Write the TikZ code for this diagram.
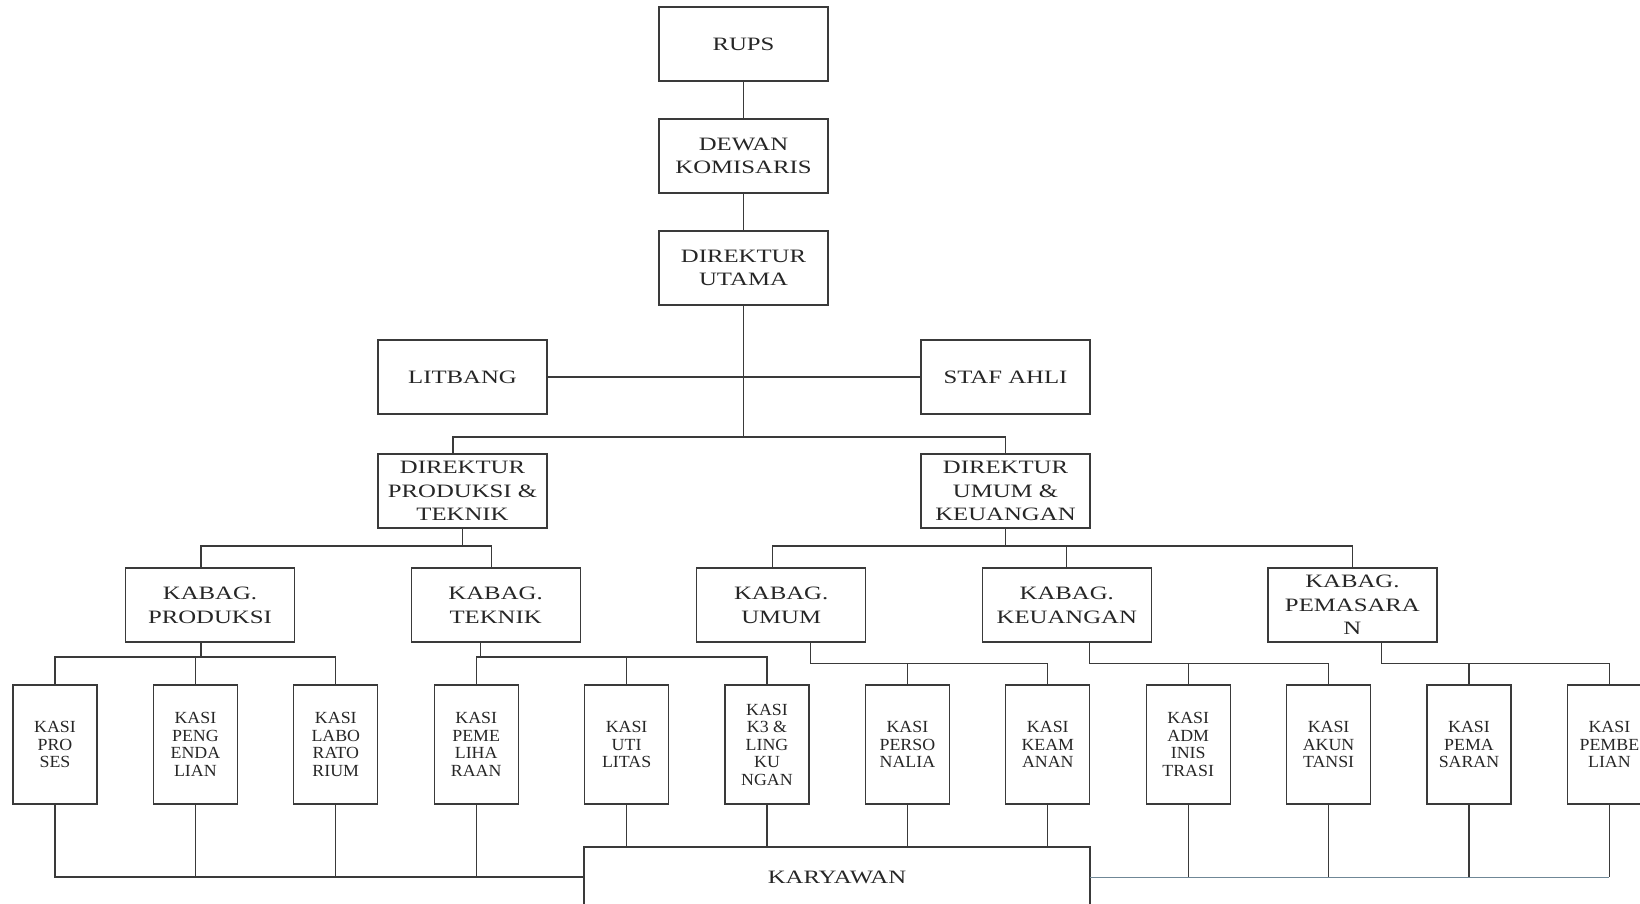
\documentclass[tikz,border=0pt]{standalone}
\usepackage{fontspec}
\setmainfont{Liberation Serif}[FakeStretch=1.31]
\newfontfamily\kasifont{Liberation Serif}[FakeStretch=1.05]
\usetikzlibrary{positioning}
\definecolor{inkgray}{HTML}{262626}
\definecolor{linegray}{HTML}{3A3A3A}
\definecolor{bluegray}{HTML}{6F8796}

\begin{document}
\begin{tikzpicture}[x=0.5pt, y=-0.5pt, line width=0.6pt, draw=linegray,
    box/.style={draw=linegray, text=inkgray, align=center, inner sep=0pt, outer sep=0pt,
      minimum width=84.5pt, minimum height=37pt,
      font=\fontsize{9.45}{11.85}\selectfont},
    kasi/.style={draw=linegray, text=inkgray, align=center, inner sep=0pt, outer sep=0pt,
      minimum width=42pt, minimum height=59.5pt,
      font=\kasifont\fontsize{8.5}{8.75}\selectfont}]
  \useasboundingbox (0,0) rectangle (1640,904);
  \clip (0,0) rectangle (1640,904);

  \node[box] (rups) at (743.5,44)    {RUPS};
  \node[box] (dewan)   [below=19pt of rups]  {DEWAN\\KOMISARIS};
  \node[box] (dirut)   [below=19pt of dewan] {DIREKTUR\\UTAMA};
  \node[box] (dirprod) at (462.5,491)  {DIREKTUR\\PRODUKSI \&\\TEKNIK};
  \node[box] (dirumum) at (1005.5,491) {DIREKTUR\\UMUM \&\\KEUANGAN};
  \node[box] (litbang)  [above=20pt of dirprod] {LITBANG};
  \node[box] (stafahli) [above=20pt of dirumum] {STAF AHLI};

  \node[box] (kbprod) at (210,605)              {KABAG.\\PRODUKSI};
  \node[box] (kbteknik)    [right=58.3pt of kbprod]   {KABAG.\\TEKNIK};
  \node[box] (kbumum)      [right=58.3pt of kbteknik] {KABAG.\\UMUM};
  \node[box] (kbkeu)       [right=58.3pt of kbumum]   {KABAG.\\KEUANGAN};
  \node[box] (kbpemasaran) [right=58.3pt of kbkeu]    {KABAG.\\PEMASARA\\N};

  \node[kasi] (kproses) at (55,744.5)         {KASI\\PRO\\SES};
  \node[kasi] (kpeng)  [right=28.2pt of kproses] {KASI\\PENG\\ENDA\\LIAN};
  \node[kasi] (klabo)  [right=28.2pt of kpeng]   {KASI\\LABO\\RATO\\RIUM};
  \node[kasi] (kpeme)  [right=28.2pt of klabo]   {KASI\\PEME\\LIHA\\RAAN};
  \node[kasi] (kuti)   [right=33.2pt of kpeme]   {KASI\\UTI\\LITAS};
  \node[kasi] (kk3)    [right=28.2pt of kuti]    {KASI\\K3 \&\\LING\\KU\\NGAN};
  \node[kasi] (kperso) [right=28.2pt of kk3]     {KASI\\PERSO\\NALIA};
  \node[kasi] (keam)   [right=28.2pt of kperso]  {KASI\\KEAM\\ANAN};
  \node[kasi] (kadm)   [right=28.2pt of keam]    {KASI\\ADM\\INIS\\TRASI};
  \node[kasi] (kakun)  [right=28.2pt of kadm]    {KASI\\AKUN\\TANSI};
  \node[kasi] (kpema)  [right=28.2pt of kakun]   {KASI\\PEMA\\SARAN};
  \node[kasi] (kpembe) [right=28.2pt of kpema]   {KASI\\PEMBE\\LIAN};

  \node[box, minimum width=253pt, minimum height=30pt] (karyawan) at (837,877) {KARYAWAN};

  % top chain
  \draw (rups) -- (dewan);
  \draw (dewan) -- (dirut);
  \draw (litbang) -- (stafahli);
  \draw (dirut.south) -- ++(0,132) coordinate (jdir);
  \draw ([xshift=-4.75pt]dirprod.north) |- (jdir) -| (dirumum.north);

  % direktur to kabag
  \draw (dirprod.south) -- ++(0,18) coordinate (jprod);
  \draw ([xshift=-4.5pt]kbprod.north) |- (jprod) -| ([xshift=-2pt]kbteknik.north);
  \draw (dirumum.south) -- ++(0,18) coordinate (jumum);
  \draw ([xshift=-4.5pt]kbumum.north) |- (jumum) -| (kbpemasaran.north);
  \draw (kbkeu.north) -- (kbkeu.north |- jumum);

  % kabag to kasi
  \draw ([xshift=-4.5pt]kbprod.south) -- ++(0,15) coordinate (jkprod);
  \draw (kproses.north) |- (jkprod) -| (klabo.north);
  \draw (kpeng.north) -- (kpeng.north |- jkprod);
  \draw ([xshift=-7.5pt]kbteknik.south) -- ++(0,15) coordinate (jkteknik);
  \draw (kpeme.north) |- (jkteknik) -| (kk3.north);
  \draw (kuti.north) -- (kuti.north |- jkteknik);
  \draw ([xshift=14.5pt]kbumum.south) -- ++(0,21.5) coordinate (jkumum);
  \draw (kperso.north) |- (jkumum) -| (keam.north);
  \draw ([xshift=11.5pt]kbkeu.south) -- ++(0,21.5) coordinate (jkkeu);
  \draw (kadm.north) |- (jkkeu) -| (kakun.north);
  \draw ([xshift=14.5pt]kbpemasaran.south) -- ++(0,21.5) coordinate (jkpem);
  \draw (kpema.north) |- (jkpem) -| (kpembe.north);

  % kasi to karyawan
  \draw (kproses.south) |- (karyawan.west);
  \foreach \k in {kpeng,klabo,kpeme}
    \draw (\k.south) -- (\k.south |- karyawan.west);
  \foreach \k in {kuti,kk3,kperso,keam}
    \draw (\k.south) -- (\k.south |- karyawan.north);
  \draw[bluegray, line width=0.5pt] (karyawan.east) -- (karyawan.east -| kpembe.south);
  \foreach \k in {kadm,kakun,kpema,kpembe}
    \draw (\k.south) -- (\k.south |- karyawan.east);
\end{tikzpicture}
\end{document}
